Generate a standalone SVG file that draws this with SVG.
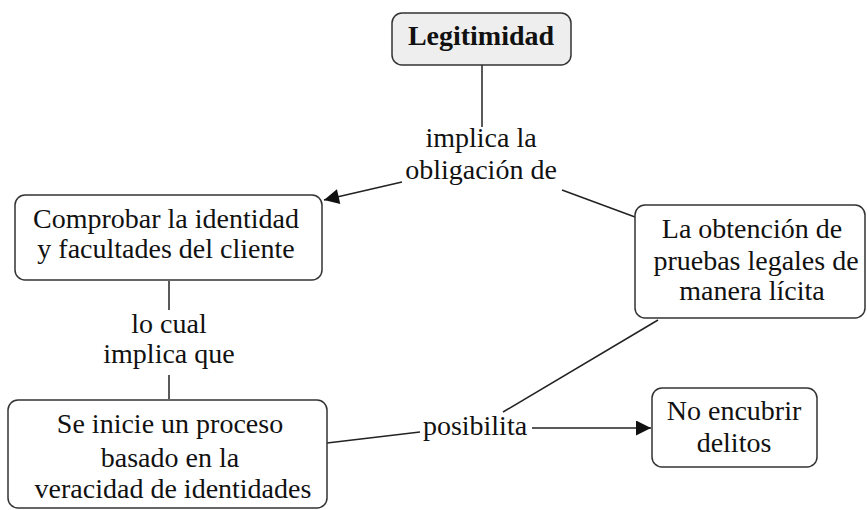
<svg xmlns="http://www.w3.org/2000/svg" width="867" height="510" viewBox="0 0 867 510">
<style>
.box{fill:#ffffff;stroke:#333333;stroke-width:1.5}
.main{fill:#eeeeee}
.t{font-family:"Liberation Serif","Times New Roman",serif;font-size:28px;fill:#111111;text-anchor:middle}
.b{font-weight:bold}
.c{fill:none;stroke:#222222;stroke-width:1.5}
</style>
<defs>
<marker id="arr" viewBox="0 0 10 10" refX="10" refY="5" markerWidth="17" markerHeight="15" markerUnits="userSpaceOnUse" orient="auto">
<path d="M0,0 L10,5 L0,10 z" fill="#111111"/>
</marker>
</defs>
<rect width="867" height="510" fill="#ffffff"/>
<g id="connectors">
<line class="c" x1="482" y1="65" x2="482" y2="127"/>
<line class="c" x1="402" y1="182" x2="324" y2="200" marker-end="url(#arr)"/>
<line class="c" x1="562" y1="190" x2="635" y2="217"/>
<line class="c" x1="169" y1="281" x2="169" y2="310"/>
<line class="c" x1="169" y1="375" x2="169" y2="399"/>
<line class="c" x1="327" y1="443" x2="420" y2="432"/>
<line class="c" x1="658" y1="320" x2="503" y2="412"/>
<line class="c" x1="532" y1="428" x2="651" y2="428" marker-end="url(#arr)"/>
</g>
<g id="label-implica">
<text class="t" x="481" y="147">implica la</text>
<text class="t" x="481" y="179">obligación de</text>
</g>
<g id="label-locual">
<text class="t" x="169" y="333">lo cual</text>
<text class="t" x="169" y="363">implica que</text>
</g>
<g id="label-posibilita">
<text class="t" x="475" y="435">posibilita</text>
</g>
<g id="node-legitimidad">
<rect class="box main" x="392" y="13" width="179" height="52" rx="10"/>
<text class="t b" x="481" y="45">Legitimidad</text>
</g>
<g id="node-comprobar">
<rect class="box" x="15" y="195" width="307" height="85" rx="10"/>
<text class="t" x="166" y="228">Comprobar la identidad</text>
<text class="t" x="166" y="258">y facultades del cliente</text>
</g>
<g id="node-obtencion">
<rect class="box" x="635" y="205" width="230" height="113" rx="10"/>
<text class="t" x="752" y="238">La obtención de</text>
<text class="t" x="756" y="270">pruebas legales de</text>
<text class="t" x="752" y="300">manera lícita</text>
</g>
<g id="node-inicie">
<rect class="box" x="8" y="400" width="319" height="108" rx="10"/>
<text class="t" x="170" y="433">Se inicie un proceso</text>
<text class="t" x="170" y="467">basado en la</text>
<text class="t" x="173" y="498">veracidad de identidades</text>
</g>
<g id="node-encubrir">
<rect class="box" x="652" y="388" width="165" height="79" rx="10"/>
<text class="t" x="734" y="420">No encubrir</text>
<text class="t" x="734" y="452">delitos</text>
</g>
</svg>
